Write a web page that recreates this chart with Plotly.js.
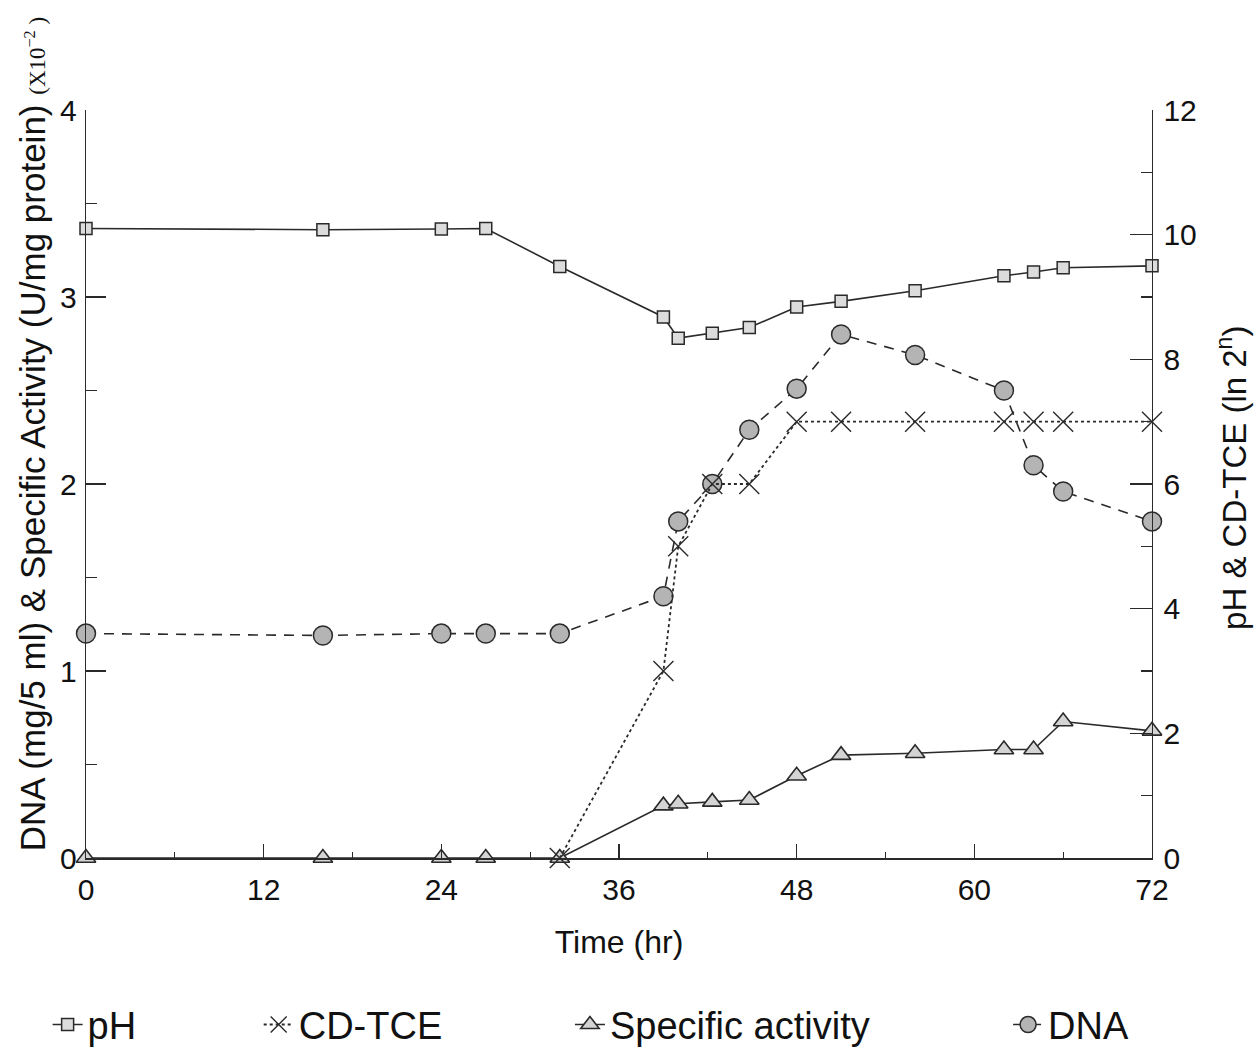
<!DOCTYPE html>
<html>
<head>
<meta charset="utf-8">
<script src="https://cdn.plot.ly/plotly-3.0.1.min.js"></script>
<style>
  html, body { margin: 0; padding: 0; background: #ffffff; }
  #chart { width: 1259px; height: 1051px; }
</style>
</head>
<body>
<div id="chart"></div>
<script>
// ---- data ----
const timeHr = [0, 16, 24, 27, 32, 39, 40, 42.3, 44.8, 48, 51, 56, 62, 64, 66, 72];
const pHValues = [10.1, 10.08, 10.09, 10.1, 9.49, 8.68, 8.34, 8.42, 8.51, 8.84, 8.93, 9.10, 9.34, 9.40, 9.47, 9.50];
const dnaValues = [1.20, 1.19, 1.20, 1.20, 1.20, 1.40, 1.80, 2.00, 2.29, 2.51, 2.80, 2.69, 2.50, 2.10, 1.96, 1.80];
const activityValues = [0, 0, 0, 0, 0, 0.28, 0.29, 0.30, 0.31, 0.44, 0.55, 0.56, 0.58, 0.58, 0.73, 0.68];
const tceTimeHr = [32, 39, 40, 42.3, 44.8, 48, 51, 56, 62, 64, 66, 72];
const cdTceValues = [0, 3, 5, 6, 6, 7, 7, 7, 7, 7, 7, 7];
const seriesNames = ["pH", "CD-TCE", "Specific activity", "DNA"];
const xTickVals = [0, 12, 24, 36, 48, 60, 72];

const INK = "#2a2a2a";
const FONT = "Liberation Sans, Arial, Helvetica, sans-serif";

const traces = [
  {
    name: seriesNames[2], x: timeHr, y: activityValues, yaxis: "y",
    mode: "lines+markers", cliponaxis: false, legend: "legend3",
    line: { color: INK, width: 1.6 },
    marker: { symbol: "triangle-up", size: 17, color: "#d4d4d4", line: { color: INK, width: 1.6 } }
  },
  {
    name: seriesNames[3], x: timeHr, y: dnaValues, yaxis: "y",
    mode: "lines+markers", cliponaxis: false, legend: "legend4",
    line: { color: INK, width: 1.6, dash: "10px,8px" },
    marker: { symbol: "circle", size: 19, color: "#b4b4b4", line: { color: INK, width: 1.5 } }
  },
  {
    name: seriesNames[0], x: timeHr, y: pHValues, yaxis: "y2",
    mode: "lines+markers", cliponaxis: false, legend: "legend",
    line: { color: INK, width: 1.6 },
    marker: { symbol: "square", size: 12, color: "#dcdcdc", line: { color: INK, width: 1.5 } }
  },
  {
    name: seriesNames[1], x: tceTimeHr, y: cdTceValues, yaxis: "y2",
    mode: "lines+markers", cliponaxis: false, legend: "legend2",
    line: { color: INK, width: 1.8, dash: "dot" },
    marker: { symbol: "x-thin", size: 20, color: INK, line: { color: INK, width: 1.4 } }
  }
];

const legendCommon = {
  orientation: "h", yanchor: "middle", xanchor: "left", y: -0.223,
  font: { family: FONT, size: 38, color: "#111" }, bgcolor: "rgba(0,0,0,0)"
};

const layout = {
  width: 1259, height: 1051,
  paper_bgcolor: "#ffffff", plot_bgcolor: "#ffffff",
  margin: { l: 86, r: 107, t: 110, b: 193, autoexpand: false },
  font: { family: FONT, color: "#111" },
  showlegend: true,
  legend:  Object.assign({}, legendCommon, { x: -0.036 }),
  legend2: Object.assign({}, legendCommon, { x: 0.162 }),
  legend3: Object.assign({}, legendCommon, { x: 0.454 }),
  legend4: Object.assign({}, legendCommon, { x: 0.865 }),
  xaxis: {
    range: [0, 72], tickvals: xTickVals, ticktext: xTickVals.map(String),
    ticks: "inside", ticklen: 14, tickwidth: 1.5, tickcolor: INK,
    minor: { dtick: 6, ticks: "inside", ticklen: 6, tickwidth: 1.2, tickcolor: INK },
    showline: true, linecolor: INK, linewidth: 1.8, mirror: false,
    showgrid: false, zeroline: false, fixedrange: true,
    tickfont: { family: FONT, size: 30, color: "#111" },
    ticklabelstandoff: 4,
    title: { text: "Time (hr)", font: { family: FONT, size: 32, color: "#111" }, standoff: 26 },
    automargin: false
  },
  yaxis: {
    range: [0, 4], dtick: 1, tick0: 0,
    ticks: "inside", ticklen: 20, tickwidth: 1.5, tickcolor: INK,
    minor: { dtick: 0.5, ticks: "inside", ticklen: 11, tickwidth: 1.2, tickcolor: INK },
    showline: true, linecolor: INK, linewidth: 1.4,
    showgrid: false, zeroline: false, fixedrange: true,
    tickfont: { family: FONT, size: 30, color: "#111" },
    ticklabelstandoff: 2,
    automargin: false
  },
  yaxis2: {
    range: [0, 12], dtick: 2, tick0: 0, overlaying: "y", side: "right",
    ticks: "inside", ticklen: 22, tickwidth: 1.5, tickcolor: INK,
    minor: { dtick: 1, ticks: "inside", ticklen: 11, tickwidth: 1.2, tickcolor: INK },
    showline: true, linecolor: INK, linewidth: 1.4,
    showgrid: false, zeroline: false, fixedrange: true,
    tickfont: { family: FONT, size: 30, color: "#111" },
    ticklabelstandoff: 4,
    automargin: false
  },
  annotations: [
    {
      text: "DNA (mg/5 ml) &amp; Specific Activity (U/mg protein) <span style=\"font-size:23px;font-family:'Liberation Serif',serif\">(X10<sup>−2</sup> )</span>",
      xref: "paper", yref: "paper", x: -0.050, y: 0.566,
      xanchor: "center", yanchor: "middle", textangle: -90, showarrow: false,
      font: { family: FONT, size: 35, color: "#111" }
    },
    {
      text: "pH &amp; CD-TCE (ln 2<sup>n</sup>)",
      xref: "paper", yref: "paper", x: 1.075, y: 0.508,
      xanchor: "center", yanchor: "middle", textangle: -90, showarrow: false,
      font: { family: FONT, size: 33, color: "#111" }
    }
  ]
};

Plotly.newPlot("chart", traces, layout, { displayModeBar: false, staticPlot: true });
</script>
</body>
</html>
